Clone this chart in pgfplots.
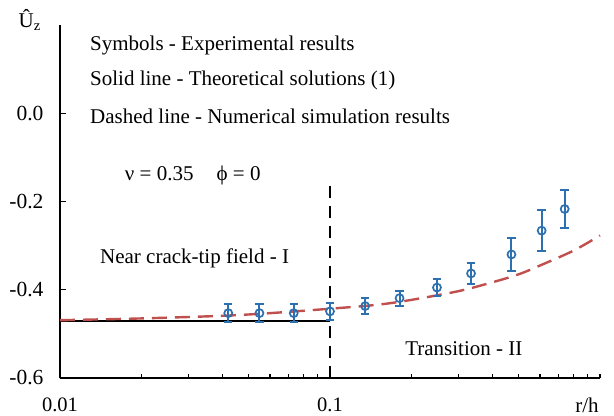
\documentclass[border=0pt]{standalone}
\usepackage{pgfplots}
\pgfplotsset{compat=1.18}
\usepackage{fontspec}
\setmainfont{Liberation Serif}
\definecolor{ptblue}{RGB}{44,112,175}
\definecolor{dred}{RGB}{192,80,77}
\tikzset{lbl/.style={font=\fontsize{21bp}{24bp}\selectfont, inner sep=0pt}}
\begin{document}
\begin{tikzpicture}
\begin{axis}[
  scale only axis,
  width=540bp, height=353bp,
  xmode=log, xmin=0.01, xmax=1,
  ymin=-0.6, ymax=0.2,
  axis x line*=bottom, axis y line*=left,
  axis line style={line width=1.6bp, -},
  xtick={0.01,0.1}, xticklabels={0.01,0.1},
  minor xtick={0.02,0.03,0.04,0.05,0.06,0.07,0.08,0.09,0.2,0.3,0.4,0.5,0.6,0.7,0.8,0.9,1},
  ytick={-0.6,-0.4,-0.2,0}, yticklabels={-0.6,-0.4,-0.2,0.0},
  tick align=inside,
  major tick length=6bp, minor tick length=4bp,
  tick style={line width=1.2bp, black},
  yticklabel style={font=\fontsize{21.5bp}{24bp}\selectfont, xshift=-13bp},
  xticklabel style={font=\fontsize{20.5bp}{23bp}\selectfont, yshift=-16bp},
  clip=false,
]
% theoretical (solid)
\addplot[black, line width=1.6bp] coordinates {(0.01,-0.471) (0.1,-0.471)};
% numerical (dashed)
\addplot[dred, line width=2.4bp, dash pattern=on 15bp off 8bp, smooth] coordinates {
(0.01,-0.469) (0.02,-0.465) (0.04,-0.459) (0.06,-0.453) (0.1,-0.443)
(0.15,-0.434) (0.2,-0.423) (0.3,-0.403) (0.4,-0.383) (0.5,-0.365)
(0.6,-0.345) (0.8,-0.311) (1.0,-0.277)};
% vertical boundary
\addplot[black, line width=2bp, dash pattern=on 12bp off 8bp] coordinates {(0.1,-0.6) (0.1,-0.16)};
% experimental
\addplot[ptblue, only marks, mark=o, mark size=4bp,
  mark options={fill=white, line width=1.7bp},
  error bars/.cd, y dir=both, y explicit,
  error bar style={line width=2bp, ptblue},
  error mark options={rotate=90, mark size=4.2bp, line width=2bp, ptblue}]
coordinates {
(0.042,-0.453) +- (0,0.02)
(0.0548,-0.453) +- (0,0.02)
(0.0734,-0.453) +- (0,0.02)
(0.1,-0.449) +- (0,0.02)
(0.135,-0.437) +- (0,0.018)
(0.181,-0.419) +- (0,0.017)
(0.249,-0.395) +- (0,0.02)
(0.333,-0.363) +- (0,0.024)
(0.47,-0.320) +- (0,0.038)
(0.608,-0.266) +- (0,0.046)
(0.74,-0.217) +- (0,0.044)};
\node[lbl, anchor=west] at (rel axis cs:0.0556,0.943) {Symbols - Experimental results};
\node[lbl, anchor=west] at (rel axis cs:0.0556,0.844) {Solid line - Theoretical solutions (1)};
\node[lbl, anchor=west] at (rel axis cs:0.0556,0.742) {Dashed line - Numerical simulation results};
\node[lbl, anchor=west] at (rel axis cs:0.12,0.575) {ν = 0.35\hspace{1.1em}ϕ = 0};
\node[lbl, anchor=west] at (rel axis cs:0.074,0.34) {Near crack-tip field - I};
\node[lbl, anchor=west] at (rel axis cs:0.639,0.082) {Transition - II};
\node[lbl] at (rel axis cs:0.976,-0.076) {r/h};
\node[lbl] at (rel axis cs:-0.056,1.014) {Û\textsubscript{z}};
\coordinate (bl) at ([xshift=-60bp,yshift=-38bp]rel axis cs:0,0);
\coordinate (tr) at ([xshift=14bp,yshift=25bp]rel axis cs:1,1);
\end{axis}
\pgfresetboundingbox
\path (bl) rectangle (tr);
\end{tikzpicture}
\end{document}
